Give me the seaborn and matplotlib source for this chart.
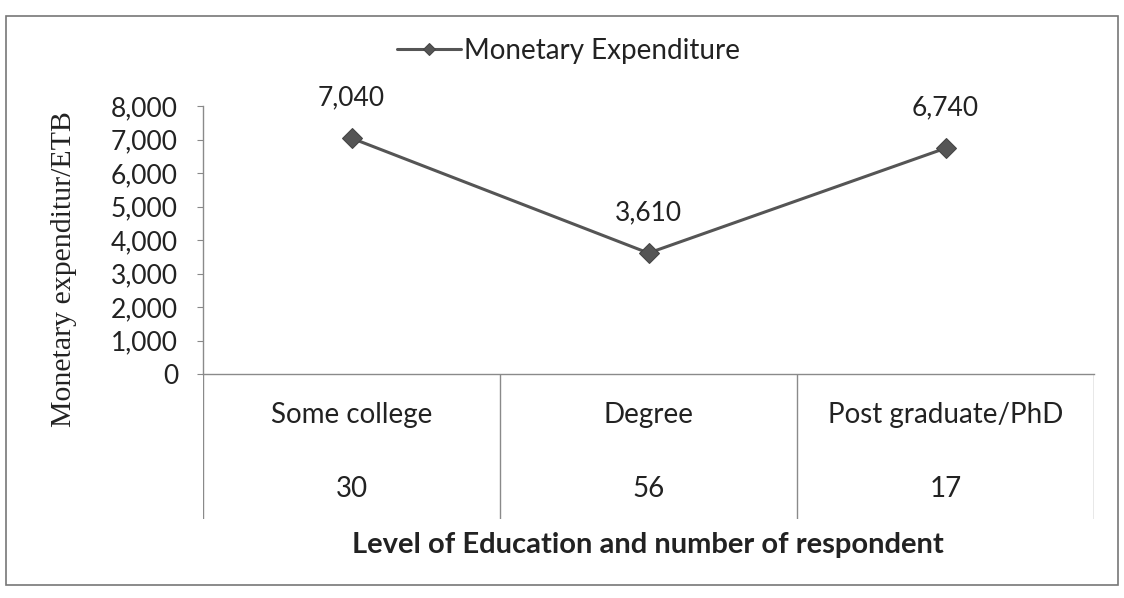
import matplotlib
matplotlib.use('Agg')
import matplotlib.pyplot as plt
import seaborn as sns
import pandas as pd
from matplotlib.patches import Rectangle
from matplotlib.ticker import FuncFormatter

# data
niveles = ['Some college', 'Degree', 'Post graduate/PhD']
gasto = [7040, 3610, 6740]
respondentes = [30, 56, 17]
ticks_y = [0, 1000, 2000, 3000, 4000, 5000, 6000, 7000, 8000]

df = pd.DataFrame({'nivel': niveles, 'gasto': gasto})

sns.set_style('white')
plt.rcParams['font.family'] = ['Lato', 'DejaVu Sans']

W, H = 1124, 598
fig = plt.figure(figsize=(W / 100, H / 100), dpi=100)

def px(x0, y0, x1, y1):
    return [x0 / W, 1 - y1 / H, (x1 - x0) / W, (y1 - y0) / H]

ax = fig.add_axes(px(203, 106, 1094, 374))
tab = fig.add_axes(px(203, 374, 1094, 519))

linea = '#555555'
texto = '#222222'
sns.lineplot(data=df, x='nivel', y='gasto', marker='D', markersize=10,
             color=linea, linewidth=2.2, markeredgecolor='#444444',
             label='Monetary Expenditure', ax=ax, sort=False)

ax.set_xlim(-0.5, len(niveles) - 0.5)
ax.set_ylim(0, 8000)
ax.set_yticks(ticks_y)
ax.yaxis.set_major_formatter(FuncFormatter(lambda v, p: f'{int(v):,}'))
ax.tick_params(axis='y', left=True, length=4, width=0.8, color='#888888',
               pad=14, labelsize=19, labelcolor=texto)
ax.set_xticks([])
ax.set_xlabel('')
ax.set_ylabel('')
for s in ['top', 'right']:
    ax.spines[s].set_visible(False)
for s in ['left', 'bottom']:
    ax.spines[s].set_color('#8a8a8a')
    ax.spines[s].set_linewidth(1.0)

for i, v in enumerate(gasto):
    ax.annotate(f'{v:,}', (i, v), xytext=(0, 29), textcoords='offset points',
                ha='center', va='center', fontsize=19, color=texto)

leg = ax.legend(loc='center', bbox_to_anchor=(0.506, 0.915),
                bbox_transform=fig.transFigure, frameon=False, fontsize=20,
                handlelength=2.3, handletextpad=0.1, borderpad=0,
                markerscale=0.65)
for t in leg.get_texts():
    t.set_color(texto)

# table under the x axis
tab.set_xlim(-0.5, len(niveles) - 0.5)
tab.set_ylim(0, 1)
tab.axis('off')
for b in range(len(niveles) + 1):
    tab.axvline(b - 0.5, color='#8a8a8a', linewidth=1.0)
for i, (n, r) in enumerate(zip(niveles, respondentes)):
    tab.text(i, 0.72, n, ha='center', va='center', fontsize=20, color=texto)
    tab.text(i, 0.21, str(r), ha='center', va='center', fontsize=20, color=texto)

fig.text(648 / W, 1 - 545 / H, 'Level of Education and number of respondent',
         ha='center', va='center', fontsize=21, fontweight='bold', color=texto)
fig.text(64 / W, 1 - 269 / H, 'Monetary expenditur/ETB', rotation=90,
         ha='center', va='center', fontsize=21.5, family='Liberation Serif',
         color=texto)

fig.patches.append(Rectangle((6 / W, 1 - 585 / H), 1112 / W, 569 / H,
                             transform=fig.transFigure, fill=False,
                             edgecolor='#777777', linewidth=1.2))

plt.savefig('out.png', dpi=100)
plt.close()
